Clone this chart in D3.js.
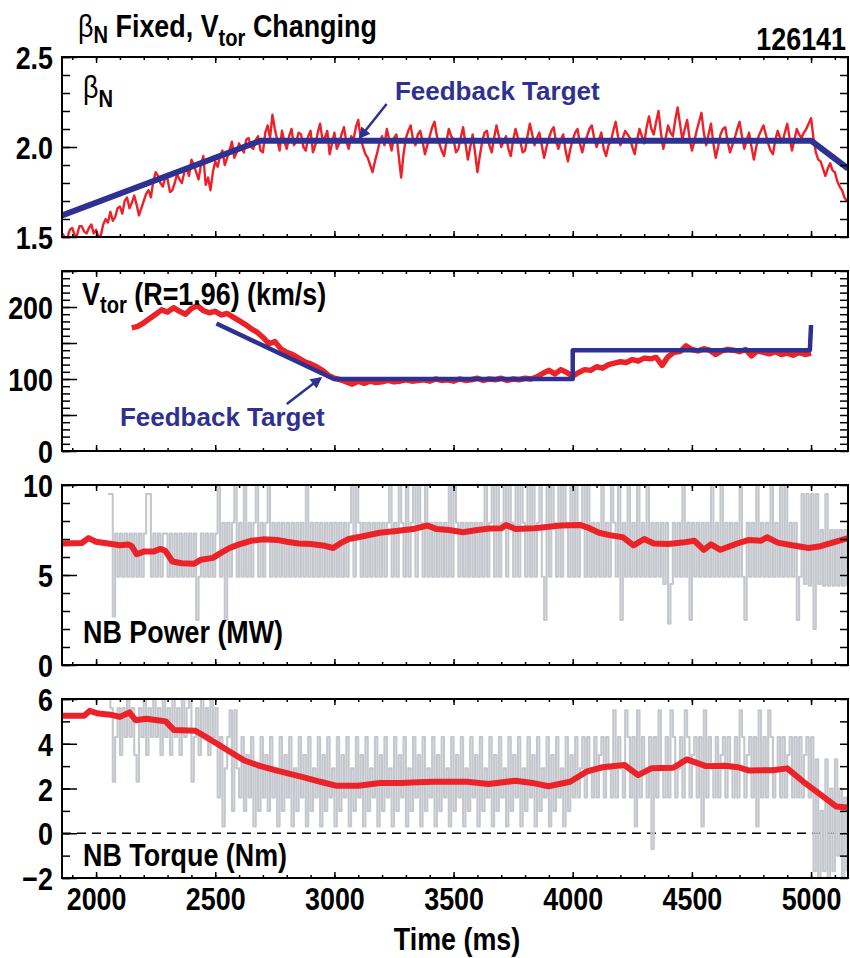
<!DOCTYPE html>
<html>
<head>
<meta charset="utf-8">
<script src="https://cdn.jsdelivr.net/npm/d3@7"></script>
<style>
  body { margin: 0; background: #fff; }
  svg { display: block; }
  text { white-space: pre; }
</style>
</head>
<body>
<svg id="chart" width="850" height="958"></svg>
<script>
// ---------------- data ----------------
const shotNumber = "126141";
const timeDomain = [1857, 5155];             // ms
const timeTicks = [2000, 2500, 3000, 3500, 4000, 4500, 5000];
const timeTickLabels = ["2000", "2500", "3000", "3500", "4000", "4500", "5000"];

// normalized beta, sampled every 10 ms from 1860 ms
const betaT0 = 1860, betaDt = 10;
const betaMeasured = [
  1.52, 1.49, 1.50, 1.54, 1.55, 1.51, 1.51, 1.56, 1.56, 1.53,
  1.52, 1.55, 1.57, 1.52, 1.54, 1.50, 1.51, 1.57, 1.60, 1.58,
  1.64, 1.59, 1.61, 1.66, 1.67, 1.63, 1.70, 1.72, 1.66, 1.69,
  1.73, 1.68, 1.62, 1.66, 1.70, 1.74, 1.76, 1.72, 1.81, 1.86,
  1.84, 1.80, 1.78, 1.83, 1.82, 1.75, 1.76, 1.80, 1.85, 1.82,
  1.80, 1.86, 1.88, 1.84, 1.93, 1.90, 1.86, 1.82, 1.90, 1.95,
  1.79, 1.83, 1.76, 1.86, 1.92, 1.89, 1.95, 1.98, 1.90, 1.94,
  1.98, 2.03, 1.94, 1.97, 2.02, 1.99, 1.97, 2.04, 2.05, 2.00,
  1.99, 2.04, 2.06, 1.98, 1.97, 2.08, 2.12, 2.05, 2.18, 2.10,
  2.04, 1.98, 2.09, 2.03, 1.99, 2.06, 2.10, 2.01, 2.03, 2.08,
  2.07, 2.00, 1.98, 2.06, 2.09, 1.97, 2.01, 2.08, 2.13, 2.04,
  2.05, 2.09, 1.96, 2.02, 2.08, 1.99, 2.02, 2.07, 2.11, 2.03,
  1.99, 2.06, 2.04, 2.11, 2.15, 2.05, 2.00, 1.96, 1.94, 1.90,
  1.86, 1.92, 1.97, 2.03, 2.06, 2.01, 2.10, 2.04, 1.98, 2.05,
  2.07, 1.95, 1.83, 1.96, 2.05, 2.09, 2.12, 2.04, 2.01, 2.07,
  2.09, 2.03, 1.96, 2.01, 2.06, 2.11, 2.14, 2.06, 2.02, 1.98,
  1.95, 2.03, 2.10, 2.06, 2.04, 1.97, 1.99, 2.05, 2.11, 2.02,
  1.93, 2.00, 2.07, 1.97, 1.86, 1.95, 2.03, 2.08, 2.09, 2.01,
  1.97, 2.05, 2.12, 2.06, 2.00, 2.03, 2.06, 1.99, 1.95, 2.04,
  2.10, 2.05, 2.03, 1.97, 1.98, 2.06, 2.13, 2.07, 2.01, 2.05,
  2.08, 2.01, 1.94, 2.00, 2.05, 2.09, 2.11, 2.03, 1.99, 2.04,
  2.07, 1.98, 1.92, 1.99, 2.04, 2.08, 2.10, 2.02, 1.97, 2.03,
  2.06, 2.10, 2.12, 2.05, 2.00, 2.04, 2.08, 1.99, 1.95, 2.01,
  2.03, 2.09, 2.14, 2.06, 2.01, 2.05, 2.09, 2.07, 2.05, 2.00,
  1.96, 2.04, 2.10, 2.06, 2.02, 2.11, 2.17, 2.10, 2.07, 2.14,
  2.20, 2.08, 1.99, 2.05, 2.12, 2.08, 2.06, 2.15, 2.22, 2.13,
  2.04, 2.10, 2.15, 2.05, 1.98, 2.03, 2.09, 2.14, 2.19, 2.08,
  2.01, 2.07, 2.13, 2.02, 1.94, 2.00, 2.07, 2.10, 2.11, 2.03,
  1.97, 2.01, 2.05, 2.10, 2.14, 2.06, 1.99, 2.04, 2.08, 2.00,
  1.93, 2.00, 2.06, 2.09, 2.12, 2.07, 2.02, 1.98, 1.96, 2.04,
  2.09, 2.05, 2.03, 2.08, 2.13, 2.05, 1.98, 2.04, 2.10, 2.07,
  2.05, 2.08, 2.10, 2.13, 2.16, 2.05, 1.97, 1.93, 1.92, 1.88,
  1.84, 1.88, 1.91, 1.87, 1.86, 1.81, 1.78, 1.76, 1.72, 1.70
];
const betaTargetT = [1857, 2690, 5000, 5155];
const betaTargetV = [1.62, 2.035, 2.035, 1.88];
const betaTicks = [1.5, 2.0, 2.5];
const betaTickLabels = ["1.5", "2.0", "2.5"];

// toroidal rotation at R = 1.96 m (km/s), sampled every 25 ms from 2150 ms
const vtorT0 = 2150, vtorDt = 25;
const vtorMeasured = [
  171, 173, 178, 184, 190, 196, 193, 199, 194, 190,
  198, 202, 195, 192, 194, 189, 191, 186, 181, 176,
  170, 165, 158, 149, 152, 142, 137, 134, 129, 124,
  121, 117, 112, 105, 101, 99, 96, 93, 97, 94,
  97, 95, 96, 98, 96, 97, 99, 97, 98, 99,
  97, 100, 98, 99, 97, 100, 98, 99, 101, 98,
  100, 99, 101, 98, 100, 99, 101, 100, 103, 108,
  112, 107, 113, 109, 104, 109, 113, 112, 117, 115,
  120, 122, 124, 123, 127, 125, 129, 128, 130, 119,
  131, 137, 138, 146, 141, 139, 142, 140, 134, 139,
  141, 140, 138, 141, 132, 139, 137, 135, 138, 134,
  136, 133, 137, 134, 136
];
const vtorTargetT = [2505, 2998, 4000, 4000, 4995, 5000];
const vtorTargetV = [177, 100, 100, 140, 140, 175];
const vtorTicks = [0, 100, 200];
const vtorTickLabels = ["0", "100", "200"];

// injected beam power (MW): raw modulated signal every 10 ms from 2050 ms
const powerT0 = 2050, powerDt = 10;
const powerRaw = [
  9.5, 9.5, 2.7, 7.3, 4.9, 7.3, 4.9, 7.3, 4.9, 7.3,
  4.9, 7.3, 4.9, 7.3, 4.9, 7.3, 9.5, 9.5, 4.9, 7.3,
  4.9, 7.3, 4.9, 7.3, 7.3, 4.9, 7.3, 4.9, 7.3, 4.9,
  7.3, 4.9, 7.3, 4.9, 7.3, 4.9, 7.3, 2.5, 4.9, 7.3,
  4.9, 7.3, 4.9, 7.3, 4.9, 7.3, 10, 4.9, 7.9, 2.5,
  7.9, 4.9, 7.9, 10, 4.9, 7.9, 4.9, 10, 4.9, 7.9,
  4.9, 7.9, 10, 4.9, 7.9, 4.9, 7.9, 10, 4.9, 7.9,
  4.9, 7.9, 4.9, 7.9, 4.9, 7.9, 4.9, 7.9, 4.9, 7.9,
  4.9, 7.9, 4.9, 10, 4.9, 7.9, 4.9, 7.9, 4.9, 7.9,
  4.9, 7.9, 4.9, 7.9, 4.9, 7.9, 4.9, 7.9, 4.9, 7.9,
  4.9, 7.9, 10, 4.9, 10, 7.9, 4.9, 7.9, 4.9, 7.9,
  4.9, 7.9, 4.9, 7.9, 4.9, 7.9, 4.9, 7.9, 10, 4.9,
  7.9, 4.9, 10, 7.9, 4.9, 10, 4.9, 7.9, 10, 4.9,
  10, 7.9, 4.9, 10, 4.9, 7.9, 4.9, 7.9, 4.9, 7.9,
  4.9, 7.9, 4.9, 10, 4.9, 10, 7.9, 4.9, 7.9, 4.9,
  7.9, 4.9, 7.9, 4.9, 7.9, 4.9, 7.9, 4.9, 10, 4.9,
  7.9, 10, 4.9, 10, 4.9, 7.9, 10, 4.9, 10, 7.9,
  4.9, 10, 4.9, 10, 7.9, 4.9, 10, 4.9, 10, 4.9,
  7.9, 10, 4.9, 2.5, 10, 4.9, 10, 7.9, 4.9, 10,
  4.9, 10, 7.9, 4.9, 10, 4.9, 10, 4.9, 7.9, 10,
  4.9, 10, 4.9, 7.9, 4.9, 7.9, 4.9, 10, 4.9, 7.9,
  4.9, 10, 7.9, 4.9, 10, 2.5, 7.9, 4.9, 10, 4.9,
  7.9, 4.9, 10, 4.9, 7.9, 4.9, 10, 4.9, 7.9, 4.9,
  7.9, 4.9, 7.9, 4.5, 7.9, 2.3, 4.5, 7.9, 4.9, 7.9,
  4.9, 10, 4.9, 7.9, 2.5, 7.9, 4.9, 7.9, 4.9, 7.9,
  4.9, 7.9, 4.9, 10, 4.9, 7.9, 4.9, 10, 4.9, 7.9,
  4.9, 7.9, 4.9, 7.9, 4.9, 10, 4.9, 2.5, 7.9, 4.9,
  7.9, 4.9, 10, 4.9, 7.9, 4.9, 7.9, 4.9, 10, 4.9,
  7.9, 4.9, 10, 4.9, 10, 4.9, 7.9, 4.9, 7.9, 2.5,
  4.9, 9.5, 4.5, 9.5, 4.4, 9.5, 2.0, 9.5, 4.5, 7.5,
  4.4, 9.5, 4.4, 7.5, 4.4, 7.5, 4.4, 7.5, 4.4, 7.5,
  4.4
];
// beam power, smoothed [ms, MW]
const powerSmooth = [
  [1857, 6.75], [1940, 6.78], [1968, 7.05], [2000, 6.85], [2050, 6.75], [2100, 6.65],
  [2135, 6.7], [2150, 6.6], [2170, 6.15], [2200, 6.3], [2240, 6.3], [2270, 6.45],
  [2290, 6.35], [2320, 5.75], [2360, 5.65], [2410, 5.62], [2440, 5.85], [2490, 5.95],
  [2520, 6.2], [2560, 6.5], [2600, 6.7], [2650, 6.9], [2700, 6.98], [2760, 6.95],
  [2800, 6.85], [2850, 6.75], [2900, 6.72], [2960, 6.62], [2995, 6.5], [3030, 6.8],
  [3060, 7.0], [3120, 7.15], [3190, 7.35], [3260, 7.45], [3330, 7.55], [3390, 7.75],
  [3430, 7.55], [3480, 7.5], [3540, 7.38], [3600, 7.5], [3650, 7.58], [3700, 7.6],
  [3720, 7.78], [3760, 7.55], [3840, 7.6], [3900, 7.68], [3950, 7.75], [4030, 7.78],
  [4070, 7.6], [4110, 7.35], [4160, 7.2], [4210, 7.1], [4255, 6.65], [4300, 7.0],
  [4340, 6.75], [4400, 6.72], [4460, 6.8], [4510, 6.9], [4550, 6.4], [4580, 6.7],
  [4620, 6.4], [4690, 6.75], [4740, 6.95], [4790, 6.9], [4815, 7.1], [4860, 6.8],
  [4920, 6.65], [4990, 6.5], [5040, 6.6], [5090, 6.8], [5155, 7.05]
];
const powerTicks = [0, 5, 10];
const powerTickLabels = ["0", "5", "10"];

// injected beam torque (Nm): raw signal every 10 ms from 2050 ms
const torqueT0 = 2050, torqueDt = 10;
const torqueRaw = [
  6.1, 5.6, 2.3, 4.3, 5.6, 3.5, 5.6, 4.3, 6.1, 4.3,
  5.6, 3.5, 2.3, 5.6, 4.3, 6.1, 3.5, 5.6, 4.3, 6.1,
  4.3, 5.6, 3.5, 6.1, 4.3, 5.6, 3.5, 6.1, 4.3, 5.6,
  3.5, 6.1, 4.3, 5.6, 6.1, 2.3, 4.3, 5.6, 3.5, 6.1,
  4.3, 5.6, 3.5, 6.1, 4.3, 5.6, 1.6, 4.3, 0.3, 2.9,
  4.3, 5.5, 1.0, 5.5, 2.9, 1.6, 4.3, 1.0, 3.5, 1.6,
  4.3, 0.3, 2.9, 1.0, 4.3, 1.6, 3.5, 1.0, 4.3, 1.6,
  2.9, 0.3, 4.3, 1.0, 3.5, 1.6, 4.3, 0.3, 2.9, 1.0,
  4.3, 1.6, 3.5, 0.3, 4.3, 1.0, 2.9, 1.6, 4.3, 0.3,
  3.5, 1.0, 4.3, 1.6, 2.9, 0.3, 4.3, 1.0, 3.5, 1.6,
  4.3, 0.3, 2.9, 1.0, 4.3, 1.6, 3.5, 0.3, 4.3, 1.0,
  2.9, 1.6, 4.3, 0.3, 3.5, 1.0, 4.3, 1.6, 2.9, 0.3,
  4.3, 1.0, 3.5, 1.6, 4.3, 0.3, 2.9, 1.0, 4.3, 1.6,
  3.5, 0.3, 4.3, 1.0, 2.9, 1.6, 4.3, 0.3, 3.5, 1.0,
  4.3, 1.6, 2.9, 0.3, 4.3, 1.0, 3.5, 1.6, 4.3, 0.3,
  2.9, 1.0, 4.3, 1.6, 3.5, 0.3, 4.3, 1.0, 2.9, 1.6,
  4.3, 0.3, 3.5, 1.0, 4.3, 1.6, 2.9, 0.3, 4.3, 1.0,
  3.5, 1.6, 4.3, 0.3, 2.9, 1.0, 4.3, 1.6, 3.5, 0.3,
  4.3, 1.0, 2.9, 1.6, 4.3, 0.3, 3.5, 1.0, 4.3, 1.6,
  2.9, 0.3, 4.3, 1.0, 3.5, 1.6, 4.3, 1.6, 2.9, 4.3,
  1.6, 4.3, 2.9, 1.6, 4.3, 1.6, 3.5, 4.3, 1.6, 4.3,
  2.9, 1.6, 5.5, 1.6, 4.3, 2.9, 1.6, 5.5, 4.3, 1.6,
  4.3, 0.3, 5.5, 1.6, 4.3, 2.9, 1.6, 4.3, -0.7, 4.3,
  1.6, 5.5, 2.9, 1.6, 4.3, 1.6, 5.5, 4.3, 1.6, 2.9,
  4.3, 1.6, 5.5, 4.3, 1.6, 3.5, 4.3, 1.6, 4.3, 0.3,
  5.5, 1.6, 4.3, 2.9, 1.6, 4.3, 1.6, 3.5, 4.3, 1.6,
  4.3, 2.9, 1.6, 4.3, 1.6, 5.5, 4.3, 1.6, 3.5, 4.3,
  1.6, 4.3, 0.3, 5.5, 1.6, 4.3, 1.6, 5.5, 4.3, 1.6,
  2.9, 4.3, 1.6, 4.3, 1.6, 3.5, 4.3, 1.6, 4.3, 1.6,
  4.3, 1.6, 3.5, 4.3, 1.6, 4.3, -1.7, 3.3, -2.3, 1.0,
  -1.7, 3.3, -2.3, 2.0, -1.7, 3.3, -1.0, 2.0, -2.3, 1.6,
  -1.7
];
// beam torque, smoothed [ms, Nm]
const torqueSmooth = [
  [1857, 5.25], [1950, 5.25], [1973, 5.47], [2010, 5.35], [2060, 5.3], [2100, 5.2],
  [2140, 5.4], [2166, 5.05], [2210, 5.12], [2257, 5.05], [2292, 5.0], [2326, 4.62],
  [2417, 4.58], [2462, 4.3], [2508, 4.0], [2553, 3.7], [2622, 3.25], [2690, 3.0],
  [2759, 2.8], [2872, 2.5], [2941, 2.3], [3010, 2.12], [3100, 2.12], [3191, 2.25],
  [3281, 2.25], [3350, 2.28], [3419, 2.3], [3556, 2.3], [3647, 2.2], [3760, 2.35],
  [3830, 2.25], [3898, 2.1], [3989, 2.3], [4057, 2.75], [4125, 2.95], [4217, 3.05],
  [4274, 2.6], [4330, 2.9], [4422, 2.93], [4479, 3.3], [4559, 3.0], [4640, 3.02],
  [4695, 2.95], [4740, 2.8], [4840, 2.82], [4900, 2.9], [4968, 2.3], [5037, 1.75],
  [5105, 1.2], [5155, 1.15]
];
const torqueTicks = [-2, 0, 2, 4, 6];
const torqueTickLabels = ["\u22122", "0", "2", "4", "6"];

// ---------------- drawing ----------------
const LEFT = 62, RIGHT = 848;
const FS = 32;                        // lettering size
const SX = 0.84;                      // horizontal squeeze of the condensed lettering
const FONT = "'Liberation Sans', Arial, Helvetica, sans-serif";
const RED = "#ec2229", BLUE = "#2e3192", GRAY = "#c4c7cd";

const svg = d3.select("#chart");
const defs = svg.append("defs");
defs.append("marker")
  .attr("id", "arrowHead")
  .attr("viewBox", "0 0 10 10")
  .attr("refX", 8).attr("refY", 5)
  .attr("markerWidth", 6).attr("markerHeight", 4.6)
  .attr("orient", "auto")
  .append("path").attr("d", "M0,0 L10,5 L0,10 Z").attr("fill", BLUE);

const x = d3.scaleLinear().domain(timeDomain).range([LEFT, RIGHT]);

const panels = {
  beta:   { top: 57,  bottom: 237, domain: [1.5, 2.5],
            minor: d3.range(15, 26).map(d => d / 10), major: betaTicks,
            labels: betaTicks, labelText: betaTickLabels },
  vtor:   { top: 271, bottom: 451, domain: [0, 250],
            minor: d3.range(0, 251, 10), major: [0, 50, 100, 150, 200, 250],
            labels: vtorTicks, labelText: vtorTickLabels },
  power:  { top: 485, bottom: 665, domain: [0, 10],
            minor: d3.range(0, 11, 1), major: [0, 5, 10],
            labels: powerTicks, labelText: powerTickLabels },
  torque: { top: 699, bottom: 878, domain: [-2, 6],
            minor: d3.range(-2, 7, 1), major: [-2, 0, 2, 4, 6],
            labels: torqueTicks, labelText: torqueTickLabels }
};

function styleAxis(g) {
  g.select(".domain").remove();
  g.selectAll(".tick line").attr("stroke", "#000").attr("stroke-width", 1.5);
  g.attr("font-family", FONT).attr("font-size", FS).attr("font-weight", "bold");
  g.selectAll(".tick text").attr("fill", "#000");
}

function buildPanel(key, withTimeLabels) {
  const p = panels[key];
  const y = d3.scaleLinear().domain(p.domain).range([p.bottom, p.top]);
  p.y = y;
  const g = svg.append("g").attr("class", "panel-" + key);

  defs.append("clipPath").attr("id", "clip-" + key)
    .append("rect").attr("x", LEFT).attr("y", p.top)
    .attr("width", RIGHT - LEFT).attr("height", p.bottom - p.top);
  p.plot = g.append("g").attr("clip-path", `url(#clip-${key})`);

  // y ticks: left (long majors) and right
  g.append("g").attr("transform", `translate(${LEFT},0)`)
    .call(d3.axisLeft(y).tickValues(p.minor).tickSize(-8).tickFormat("")).call(styleAxis);
  g.append("g").attr("transform", `translate(${LEFT},0)`)
    .call(d3.axisLeft(y).tickValues(p.major).tickSize(-15).tickFormat("")).call(styleAxis);
  g.append("g").attr("transform", `translate(${RIGHT},0)`)
    .call(d3.axisRight(y).tickValues(p.minor).tickSize(-8).tickFormat("")).call(styleAxis);

  const lab = g.append("g").attr("transform", `translate(${LEFT},0)`)
    .call(d3.axisLeft(y).tickValues(p.labels).tickSize(0).tickPadding(9)
      .tickFormat((d, i) => p.labelText[i]))
    .call(styleAxis);
  lab.selectAll(".tick text")
    .attr("x", -9 / SX).attr("dy", "0.36em")
    .attr("transform", `scale(${SX},1)`);

  // time ticks on top and bottom edges
  const xMinor = d3.range(1900, 5101, 100);
  [[p.top, d3.axisTop], [p.bottom, d3.axisBottom]].forEach(([yy, ax]) => {
    g.append("g").attr("transform", `translate(0,${yy})`)
      .call(ax(x).tickValues(xMinor).tickSize(-3).tickFormat("")).call(styleAxis);
    g.append("g").attr("transform", `translate(0,${yy})`)
      .call(ax(x).tickValues(timeTicks).tickSize(-6).tickFormat("")).call(styleAxis);
  });

  if (withTimeLabels) {
    const xl = g.append("g").attr("transform", `translate(0,${p.bottom})`)
      .call(d3.axisBottom(x).tickValues(timeTicks).tickSize(0).tickPadding(9)
        .tickFormat((d, i) => timeTickLabels[i]))
      .call(styleAxis);
    xl.selectAll(".tick text").attr("transform", `scale(${SX},1)`);
  }

  g.append("rect").attr("x", LEFT).attr("y", p.top)
    .attr("width", RIGHT - LEFT).attr("height", p.bottom - p.top)
    .attr("fill", "none").attr("stroke", "#000").attr("stroke-width", 2);
  return p;
}

const pBeta = buildPanel("beta", false);
const pVtor = buildPanel("vtor", false);
const pPow = buildPanel("power", false);
const pTq = buildPanel("torque", true);

const sampled = (t0, dt, vals) => vals.map((v, i) => [t0 + i * dt, v]);
const zipped = (ts, vs) => ts.map((t, i) => [t, vs[i]]);

function drawLine(p, data, color, width, stepped) {
  const line = d3.line().x(d => x(d[0])).y(d => p.y(d[1]));
  if (stepped) line.curve(d3.curveStepAfter);
  p.plot.append("path").datum(data).attr("d", line)
    .attr("fill", "none").attr("stroke", color).attr("stroke-width", width)
    .attr("stroke-linejoin", "round").attr("stroke-linecap", "butt");
}

// beta_N
drawLine(pBeta, sampled(betaT0, betaDt, betaMeasured), RED, 2.4, false);
drawLine(pBeta, zipped(betaTargetT, betaTargetV), BLUE, 6, false);

// V_tor
drawLine(pVtor, sampled(vtorT0, vtorDt, vtorMeasured), RED, 5.5, false);
drawLine(pVtor, zipped(vtorTargetT, vtorTargetV), BLUE, 4.5, false);

// NB power
drawLine(pPow, sampled(powerT0, powerDt, powerRaw), GRAY, 2.1, true);
drawLine(pPow, powerSmooth, RED, 6, false);

// NB torque
pTq.plot.append("line")
  .attr("x1", LEFT).attr("x2", RIGHT).attr("y1", pTq.y(0)).attr("y2", pTq.y(0))
  .attr("stroke", "#000").attr("stroke-width", 1.5).attr("stroke-dasharray", "9,6");
drawLine(pTq, sampled(torqueT0, torqueDt, torqueRaw), GRAY, 2.1, true);
drawLine(pTq, torqueSmooth, RED, 6, false);

// ---------------- lettering ----------------
function squeezed(px, py, anchor) {
  return svg.append("text")
    .attr("transform", `translate(${px},${py}) scale(${SX},1)`)
    .attr("text-anchor", anchor || "start")
    .attr("font-family", FONT).attr("font-weight", "bold")
    .attr("font-size", FS).attr("fill", "#000");
}

// title
const title = squeezed(78, 37);
title.append("tspan").attr("font-weight", "normal").text("\u03b2");
title.append("tspan").attr("font-size", 24).attr("dy", 6).text("N");
title.append("tspan").attr("dy", -6).text(" Fixed, V");
title.append("tspan").attr("font-size", 24).attr("dy", 9).text("tor");
title.append("tspan").attr("dy", -9).text(" Changing");

squeezed(846, 50, "end").text(shotNumber);

// panel captions
const capBeta = squeezed(83, 98);
capBeta.append("tspan").attr("font-weight", "normal").text("\u03b2");
capBeta.append("tspan").attr("font-size", 24).attr("dy", 9).text("N");

const capV = squeezed(82, 305);
capV.append("tspan").text("V");
capV.append("tspan").attr("font-size", 24).attr("dy", 8).text("tor");
capV.append("tspan").attr("dy", -8).text(" (R=1.96) (km/s)");

squeezed(83, 643).text("NB Power (MW)");
squeezed(83, 866).text("NB Torque (Nm)");

squeezed(457, 950, "middle").text("Time (ms)");

// feedback target call-outs
function callout(p, textAt, tail, tip) {
  svg.append("text")
    .attr("x", x(textAt[0])).attr("y", p.y(textAt[1]))
    .attr("font-family", FONT).attr("font-weight", "bold").attr("font-size", 26)
    .attr("fill", BLUE).text("Feedback Target");
  svg.append("line")
    .attr("x1", x(tail[0])).attr("y1", p.y(tail[1]))
    .attr("x2", x(tip[0])).attr("y2", p.y(tip[1]))
    .attr("stroke", BLUE).attr("stroke-width", 2.5)
    .attr("marker-end", "url(#arrowHead)");
}
callout(pBeta, [3254, 2.261], [3219, 2.239], [3108, 2.054]);
callout(pVtor, [2100, 34.7], [2800, 65.3], [2941, 101]);
</script>
</body>
</html>
